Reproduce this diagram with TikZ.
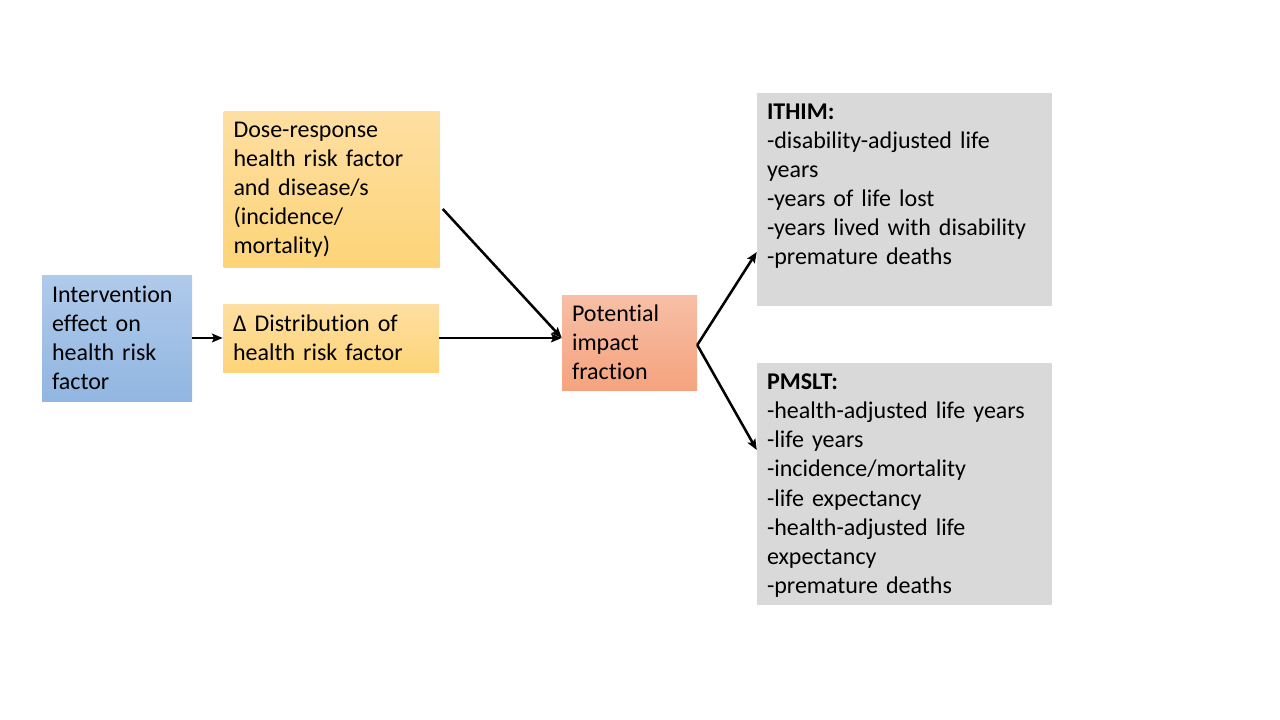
\documentclass[tikz,border=0pt]{standalone}
\usepackage{fontspec}
\setmainfont{Carlito}[RawFeature={-liga;-clig;-calt}, WordSpace=0.8]
\usetikzlibrary{arrows.meta}

\definecolor{bluetop}{RGB}{176,202,234}
\definecolor{bluebot}{RGB}{145,182,225}
\definecolor{yeltop}{RGB}{254,223,162}
\definecolor{yelbot}{RGB}{253,212,120}
\definecolor{pinktop}{RGB}{247,191,166}
\definecolor{pinkbot}{RGB}{245,163,126}
\definecolor{greybox}{RGB}{217,217,217}

\begin{document}
\begin{tikzpicture}[x=0.75pt,y=-0.75pt]

\tikzset{box/.style={inner xsep=7.5pt, inner ysep=0pt, align=left, text width=#1,
    font=\fontsize{18pt}{21.8pt}\selectfont},
  inbox/.style={box=97.5pt, minimum width=112.5pt, minimum height=94.5pt,
    top color=bluetop, bottom color=bluebot},
  riskbox/.style={box=147pt, minimum width=162pt, top color=yeltop, bottom color=yelbot},
  pifbox/.style={box=86.25pt, minimum width=101.25pt, minimum height=71.25pt,
    top color=pinktop, bottom color=pinkbot},
  outbox/.style={fill=greybox, minimum width=221.25pt, inner sep=0pt},
  outtext/.style={box=206.25pt, inner ysep=3pt, anchor=north west},
  link/.style={line width=1.9pt, -{Stealth[length=8pt,width=6.5pt,inset=1.5pt]}}}

\useasboundingbox (0,0) rectangle (1280,720);

% left column
\node[inbox] (interv) at (117,338) {Intervention\\effect on\\health risk\\factor};
\node[riskbox, minimum height=116.25pt] (dose) at (331.5,189.5)
  {Dose-response\\health risk factor\\and disease/s\\(incidence/\\mortality)};
\node[riskbox, minimum height=51pt] (delta) at (331,338) {Δ Distribution of\\health risk factor};

% middle
\node[pifbox] (pif) at (629.5,342.5) {Potential\\impact\\fraction};

% outcomes
\node[outbox, minimum height=159.75pt] (ithim) at (904.5,199.5) {};
\node[outtext] (ithimtext) at ([shift={(0,7)}]ithim.north west)
  {\textbf{ITHIM:}\\-disability-adjusted life\\years\\-years of life lost\\-years lived with disability\\-premature deaths};
\node[outbox, minimum height=181.5pt] (pmslt) at (904.5,484) {};
\node[outtext] (pmslttext) at ([shift={(0,7)}]pmslt.north west)
  {\textbf{PMSLT:}\\-health-adjusted life years\\-life years\\-incidence/mortality\\-life expectancy\\-health-adjusted life\\expectancy\\-premature deaths};

\draw[link] (interv.east) -- (delta.west);
\draw[link] (delta.east) -- (delta.east -| pif.west);
\draw[link] ([shift={(3,19.5)}]dose.east) -- (delta.east -| pif.west);
\draw[link] ([shift={(0,2.5)}]pif.east) -- ([shift={(0,52.5)}]ithim.west);
\draw[link] ([shift={(0,2.5)}]pif.east) -- ([shift={(0,-34)}]pmslt.west);

\end{tikzpicture}
\end{document}
